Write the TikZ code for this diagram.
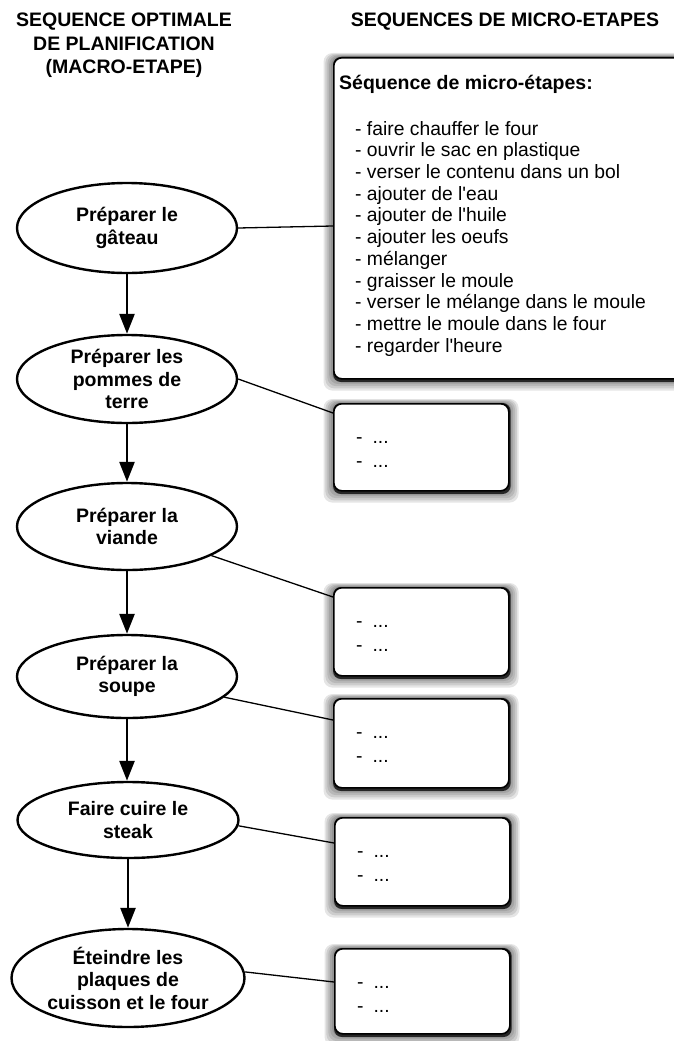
\documentclass[tikz,border=0pt]{standalone}
\usepackage{fontspec}
\setmainfont{Liberation Sans}
\usetikzlibrary{shapes.geometric,arrows.meta,backgrounds,calc}
\begin{document}
\begin{tikzpicture}[x=1pt,y=-1pt,
  macronode/.style={ellipse,draw,line width=2.4pt,inner sep=0pt,align=center,
    font=\bfseries\fontsize{19.5}{22.5}\selectfont},
  colhead/.style={align=center,inner sep=0pt,anchor=north,
    font=\bfseries\fontsize{19.5}{23.5}\selectfont},
  microbox/.style={draw,line width=1.6pt,rounded corners=8pt,fill=white,inner sep=0pt,
    minimum width=175pt,anchor=north west},
  etcline/.style={anchor=base west,inner sep=0pt,font=\fontsize{19.3}{21.7}\selectfont},
  seqarrow/.style={-{Triangle[length=20pt,width=15pt]},line width=2.6pt},
  link/.style={line width=1.3pt},
  shade/.style={black,opacity=0.1,rounded corners=9pt}]

\useasboundingbox (0,0) rectangle (674,1041);
\clip (0,0) rectangle (674,1041);

% column headings
\node[colhead] (h1) at (124,13) {SEQUENCE OPTIMALE\\DE PLANIFICATION\\(MACRO-ETAPE)};
\node[colhead] (h2) at (505,13) {SEQUENCES DE MICRO-ETAPES};

% big micro-step box
\node[draw,line width=1.6pt,rounded corners=8pt,fill=white,inner sep=0pt,anchor=north west,
  minimum width=370pt,minimum height=321pt] (big) at (333,57) {};
\node[anchor=base west,inner sep=0pt,font=\bfseries\fontsize{19.5}{22}\selectfont] (bigtitle)
  at (339,89) {Séquence de micro-étapes:};
\node[anchor=north west,inner sep=0pt,align=left,font=\fontsize{19.3}{21.7}\selectfont] (items)
  at (355,121) {- faire chauffer le four\\
- ouvrir le sac en plastique\\
- verser le contenu dans un bol\\
- ajouter de l\textquotesingle eau\\
- ajouter de l\textquotesingle huile\\
- ajouter les oeufs\\
- mélanger\\
- graisser le moule\\
- verser le mélange dans le moule\\
- mettre le moule dans le four\\
- regarder l\textquotesingle heure};

% macro steps
\node[macronode,minimum width=220pt,minimum height=90pt] (e1) at (127,228) {Préparer le\\gâteau};
\node[macronode,minimum width=220pt,minimum height=88pt] (e2) at (127,379) {Préparer les\\pommes de\\terre};
\node[macronode,minimum width=220pt,minimum height=87pt] (e3) at (127,526.5) {Préparer la\\viande};
\node[macronode,minimum width=220pt,minimum height=83pt] (e4) at (127,676.5) {Préparer la\\soupe};
\node[macronode,minimum width=221pt,minimum height=76pt] (e5) at (128,820) {Faire cuire le\\steak};
\node[macronode,minimum width=233pt,minimum height=98pt] (e6) at (128,978) {Éteindre les\\plaques de\\cuisson et le four};

% small micro-step boxes
\node[microbox,minimum height=87pt] (b1) at (333,403) {};
\node[microbox,minimum height=88pt] (b2) at (333,587) {};
\node[microbox,minimum height=89pt] (b3) at (333,698) {};
\node[microbox,minimum height=88pt] (b4) at (334,817) {};
\node[microbox,minimum height=85pt] (b5) at (334,948) {};

\foreach \b in {1,...,5}{
  \node[etcline] (t\b a) at ($(b\b.north west)+(23,40)$) {-\hspace{10pt}...};
  \node[etcline] (t\b b) at ($(b\b.north west)+(23,64)$) {-\hspace{10pt}...};
}

% shadows
\begin{scope}[on background layer]
  \fill[white] (0,0) rectangle (674,1041);
  \foreach \b in {big,b1,b2,b3,b4,b5}{
    \foreach \i in {1,...,5}{
      \fill[shade] ($(\b.south west)+(-1.9*\i,2.2*\i)$) rectangle ($(\b.north east)+(1.8*\i,-0.8*\i)$);
    }
    \fill[black!85,rounded corners=8pt] ($(\b.south west)+(0,2.4)$) rectangle ($(\b.north east)+(1,0)$);
  }
\end{scope}

% sequence arrows
\draw[seqarrow] (e1.south) -- (e2.north);
\draw[seqarrow] (e2.south) -- (e3.north);
\draw[seqarrow] (e3.south) -- (e4.north);
\draw[seqarrow] (e4.south) -- (e4.south |- e5.north);
\draw[seqarrow] (e5.south) -- (e6.north);

% links to micro-step boxes
\draw[link] (e1.east) -- ([yshift=2pt]e1.east -| big.west);
\draw[link] (e2.east) -- ([yshift=-10pt]b1.north west);
\draw[link] (e3.-19) -- ([yshift=-10pt]b2.north west);
\draw[link] (e4.-12) -- ([yshift=-22pt]b3.north west);
\draw[link] (e5.-3) -- ([yshift=-26pt]b4.north west);
\draw[link] (e6.3) -- ([yshift=-34pt]b5.north west);
\end{tikzpicture}
\end{document}
